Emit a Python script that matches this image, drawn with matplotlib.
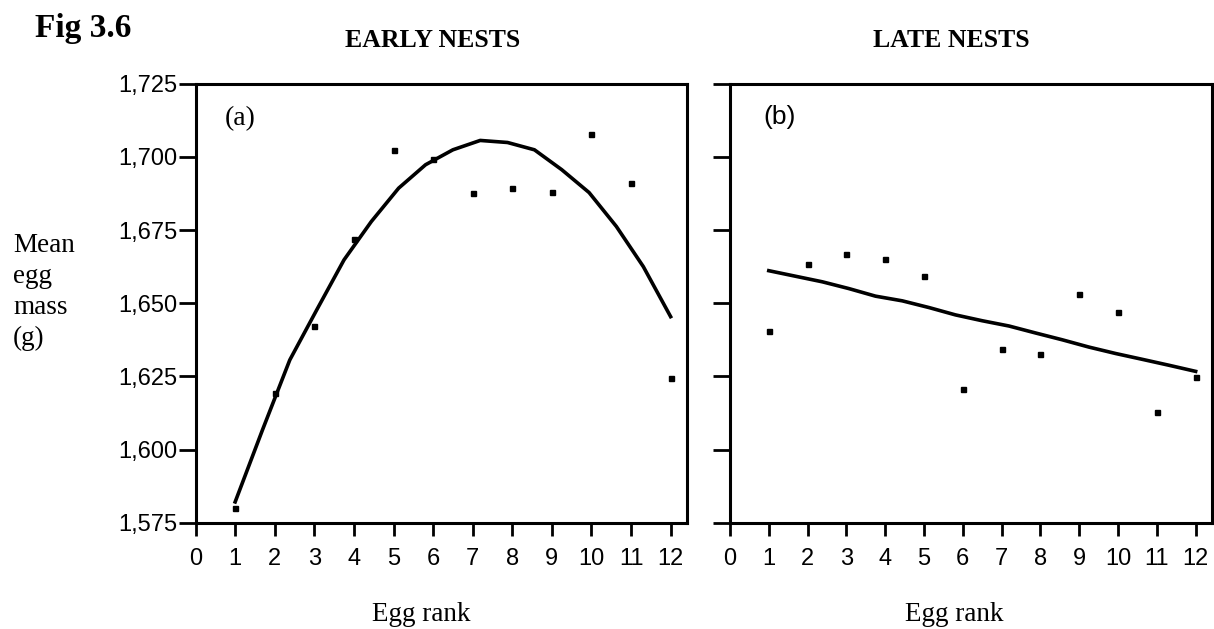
import matplotlib.pyplot as plt

# egg rank vs mean egg mass, early and late nests
ranks = [1, 2, 3, 4, 5, 6, 7, 8, 9, 10, 11, 12]
early_mass = [1.5800, 1.6192, 1.6423, 1.6719, 1.7022, 1.6992,
              1.6878, 1.6894, 1.6880, 1.7079, 1.6910, 1.6243]
late_mass = [1.6404, 1.6634, 1.6668, 1.6651, 1.6594, 1.6207,
             1.6342, 1.6325, 1.6532, 1.6470, 1.6129, 1.6248]

# fitted curves, sampled along the rank axis
fit_rank = [1, 1.69, 2.38, 3.06, 3.75, 4.44, 5.13, 5.81, 6.5,
            7.19, 7.88, 8.56, 9.25, 9.94, 10.63, 11.31, 12]
early_fit = [1.5821, 1.6067, 1.6306, 1.6477, 1.6648, 1.6779, 1.6893, 1.6973, 1.7024,
             1.7056, 1.7049, 1.7024, 1.6956, 1.6878, 1.6762, 1.6625, 1.6454]
late_fit = [1.6611, 1.6592, 1.6573, 1.6550, 1.6524, 1.6508, 1.6485, 1.6460, 1.6440,
            1.6422, 1.6398, 1.6375, 1.6350, 1.6328, 1.6308, 1.6288, 1.6267]

yticks = [1.575, 1.600, 1.625, 1.650, 1.675, 1.700, 1.725]
ytick_labels = ['1,575', '1,600', '1,625', '1,650', '1,675', '1,700', '1,725']
xticks = list(range(0, 13))

serif = 'Liberation Serif'
sans = 'Liberation Sans'

fig = plt.figure(figsize=(12.14, 6.29), dpi=100)
ax1 = fig.add_axes([0.1611, 0.1690, 0.4050, 0.6980])
ax2 = fig.add_axes([0.6013, 0.1690, 0.3970, 0.6980])


def style(ax, show_labels):
    ax.set_xlim(0, 12.42)
    ax.set_ylim(1.575, 1.725)
    ax.set_xticks(xticks)
    ax.set_xticklabels([str(t) for t in xticks], fontfamily=sans, fontsize=17)
    ax.set_yticks(yticks)
    if show_labels:
        ax.set_yticklabels(ytick_labels, fontfamily=sans, fontsize=17)
    else:
        ax.set_yticklabels([])
    ax.tick_params(axis='x', direction='out', length=9, width=2, pad=9)
    ax.tick_params(axis='y', direction='out', length=12, width=2, pad=1)
    for s in ax.spines.values():
        s.set_linewidth(2.2)
        s.set_color('black')


ax1.plot(fit_rank, early_fit, color='black', lw=2.6)
ax1.plot(ranks, early_mass, 's', color='black', ms=3.6, ls='none')
style(ax1, True)
ax1.text(0.06, 0.92, '(a)', transform=ax1.transAxes, fontfamily=serif,
         fontsize=20, ha='left', va='center')

ax2.plot(fit_rank, late_fit, color='black', lw=2.6)
ax2.plot(ranks, late_mass, 's', color='black', ms=3.6, ls='none')
style(ax2, False)
ax2.text(0.07, 0.925, '(b)', transform=ax2.transAxes, fontfamily=sans,
         fontsize=19, ha='left', va='center')

fig.text(0.0288, 0.9417, 'Fig 3.6', fontfamily=serif, fontsize=24,
         fontweight='bold', ha='left', va='baseline')
fig.text(0.356, 0.9258, 'EARLY NESTS', fontfamily=serif, fontsize=18.5,
         fontweight='bold', ha='center', va='baseline')
fig.text(0.784, 0.9258, 'LATE NESTS', fontfamily=serif, fontsize=18.5,
         fontweight='bold', ha='center', va='baseline')
fig.text(0.347, 0.0127, 'Egg rank', fontfamily=serif, fontsize=19.5,
         ha='center', va='baseline')
fig.text(0.786, 0.0127, 'Egg rank', fontfamily=serif, fontsize=19.5,
         ha='center', va='baseline')
fig.text(0.0107, 1 - 292 / 629, 'Mean\negg\nmass\n(g)', fontfamily=serif,
         fontsize=19.5, ha='left', va='center', linespacing=1.3)

fig.savefig('out.png', dpi=100)
